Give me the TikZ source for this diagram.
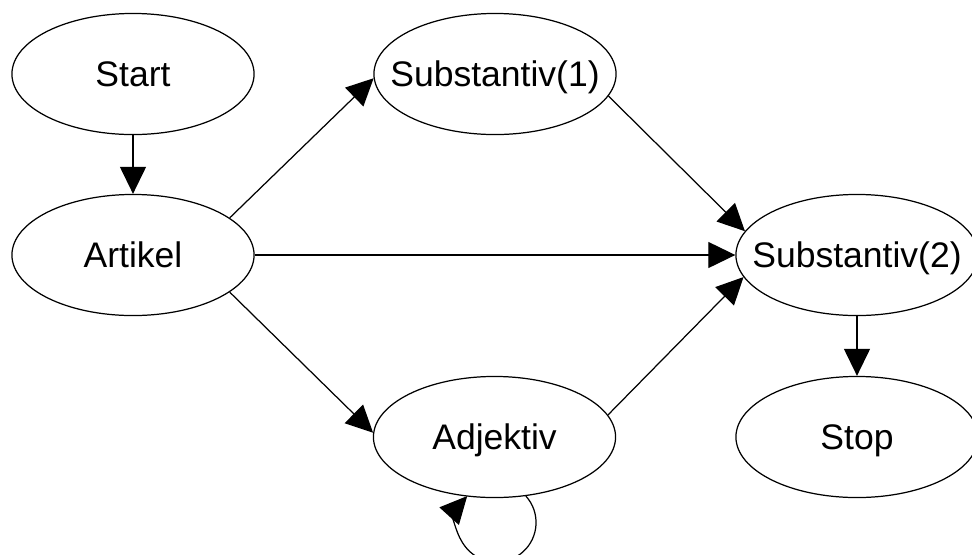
\documentclass[tikz,border=0pt]{standalone}
\usepackage{fontspec}
\setmainfont{Liberation Sans}
\usetikzlibrary{shapes.geometric,arrows.meta}
\begin{document}
\begin{tikzpicture}[x=0.01cm,y=0.01cm,
 state/.style={ellipse, draw, line width=0.35pt, minimum width=2.42cm, minimum height=1.21cm, inner sep=0pt},
 lbl/.style={font=\fontsize{10.1}{12}\selectfont, inner sep=0pt, text height=0.72em, text depth=0pt},
 arr/.style={line width=0.35pt, -{Triangle[length=0.27cm,width=0.26cm]}}]
\useasboundingbox (0,0) rectangle (972,-554);
\node[state] (start) at (133,-74) {};
\node[state] (art) at (133,-255) {};
\node[state] (s1) at (495,-74) {};
\node[state] (s2) at (857,-255) {};
\node[state] (adj) at (494.5,-437) {};
\node[state] (stop) at (857,-437) {};
\node[lbl] (startT) at (start.center) {Start};
\node[lbl] (artT) at (art.center) {Artikel};
\node[lbl] (s1T) at (s1.center) {Substantiv(1)};
\node[lbl] (s2T) at (s2.center) {Substantiv(2)};
\node[lbl] (adjT) at (adj.center) {Adjektiv};
\node[lbl] (stopT) at (stop.center) {Stop};
\draw[arr] (start.south) -- (art.north);
\draw[arr] (art.21) -- (s1.182);
\draw[arr] (art.east) -- (s2.west);
\draw[arr] (art.-21) -- (adj.178);
\draw[arr] (s1.-11.5) -- (s2.168.4);
\draw[arr] (adj.11) -- (s2.191.6);
\draw[arr] (s2.south) -- (stop.north);
\draw[arr] (adj.-62) arc[start angle=42, end angle=-222, radius=39.5];
\end{tikzpicture}
\end{document}
